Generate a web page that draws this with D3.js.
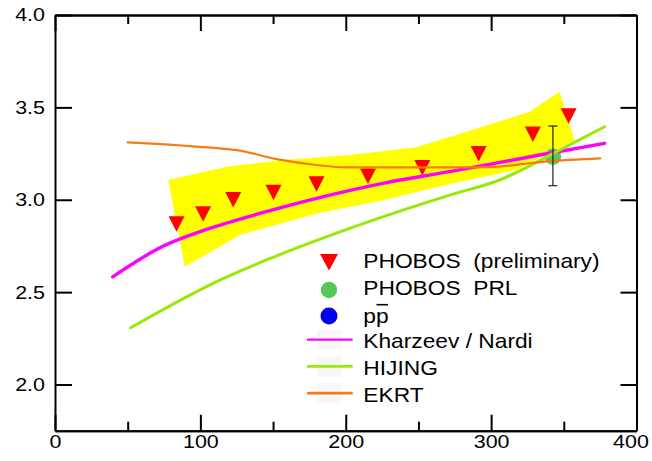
<!DOCTYPE html>
<html>
<head>
<meta charset="utf-8">
<script src="https://cdn.jsdelivr.net/npm/d3@7"></script>
<style>
  body { margin: 0; background: #fff; }
  svg { display: block; font-family: "Liberation Sans", Arial, Helvetica, sans-serif; }
</style>
</head>
<body>
<div id="chart"></div>
<script>
// values
const phobosX = [83.6, 101.9, 122.6, 150.3, 179.9, 215.3, 252.7, 291.4, 328.7, 353.3];
const phobosY = [2.870, 2.924, 3.002, 3.040, 3.087, 3.128, 3.175, 3.251, 3.356, 3.455];

const prlX = [342.5];
const prlY = [3.233];
const prlLo = [3.076];
const prlHi = [3.399];

// systematic band (upper edge left->right, lower edge right->left)
const bandUpX = [77.9, 118.0, 156.9, 202.7, 248.6, 283.0, 326.5, 347.1];
const bandUpY = [3.107, 3.179, 3.215, 3.242, 3.284, 3.368, 3.476, 3.585];
const bandLoX = [357.4, 317.3, 271.5, 225.6, 179.9, 127.1, 89.3];
const bandLoY = [3.323, 3.161, 3.085, 2.998, 2.926, 2.809, 2.637];

const kharzeevX = [39.7, 72.2, 106.5, 140.9, 179.9, 225.6, 271.5, 333.3, 378.0];
const kharzeevY = [2.583, 2.740, 2.845, 2.926, 3.008, 3.089, 3.152, 3.242, 3.305];

const hijingX = [52.0, 113.4, 145.5, 202.7, 271.5, 305.8, 347.1, 378.0];
const hijingY = [2.307, 2.565, 2.674, 2.845, 3.025, 3.107, 3.269, 3.395];

const ekrtX = [50.0, 113.4, 124.9, 152.4, 179.9, 200.5, 237.1, 271.5, 300.0, 338.0, 375.0];
const ekrtY = [3.311, 3.278, 3.269, 3.220, 3.188, 3.175, 3.175, 3.175, 3.177, 3.208, 3.224];

const xTicks = [0, 100, 200, 300, 400];
const xMinor = [50, 150, 250, 350];
const yTicks = [2.0, 2.5, 3.0, 3.5, 4.0];

const legendLabels = ['PHOBOS  (preliminary)', 'PHOBOS  PRL', 'pp', 'Kharzeev / Nardi', 'HIJING', 'EKRT'];

const colors = {
  band: '#ffff00',
  phobos: '#ff0000',
  prl: '#55c85a',
  ppbar: '#0000ee',
  kharzeev: '#ff00ff',
  hijing: '#99e80a',
  ekrt: '#f97a10'
};

const s = {
  width: 652,
  height: 461,
  margin: {top: 15, right: 15.5, bottom: 30.3, left: 55},
  fontSize: 18.5,
  legendSize: 20.5
};

const zip = (xs, ys) => xs.map((v, i) => [v, ys[i]]);

const svg = d3.select('#chart').append('svg')
  .attr('width', s.width)
  .attr('height', s.height);

const x = d3.scaleLinear().domain([0, 400])
  .range([s.margin.left, s.width - s.margin.right]);
const y = d3.scaleLinear().domain([1.75, 4.0])
  .range([s.height - s.margin.bottom, s.margin.top]);

const line = d3.line().x(d => x(d[0])).y(d => y(d[1]));
const smooth = d3.line().x(d => x(d[0])).y(d => y(d[1])).curve(d3.curveMonotoneX);

// band
const bandPts = zip(bandUpX, bandUpY).concat(zip(bandLoX, bandLoY));
svg.append('path')
  .attr('d', line(bandPts) + 'Z')
  .style('fill', colors.band);

// phobos preliminary triangles
const tri = 'M-8,-7.5L8,-7.5L0,8Z';
svg.append('g').selectAll('path')
  .data(zip(phobosX, phobosY))
  .join('path')
  .attr('d', tri)
  .attr('transform', d => `translate(${x(d[0])},${y(d[1])})`)
  .style('fill', colors.phobos);

// phobos PRL point
svg.append('g').selectAll('circle')
  .data(zip(prlX, prlY))
  .join('circle')
  .attr('cx', d => x(d[0]))
  .attr('cy', d => y(d[1]))
  .attr('r', 8.2)
  .style('fill', colors.prl);

// model curves
const curves = [
  {pts: zip(kharzeevX, kharzeevY), color: colors.kharzeev, w: 3.4},
  {pts: zip(hijingX, hijingY), color: colors.hijing, w: 3},
  {pts: zip(ekrtX, ekrtY), color: colors.ekrt, w: 2.2}
];
svg.append('g').selectAll('path')
  .data(curves)
  .join('path')
  .attr('d', d => smooth(d.pts))
  .style('fill', 'none')
  .style('stroke', d => d.color)
  .style('stroke-width', d => d.w)
  .style('stroke-linecap', 'round')
  .style('stroke-linejoin', 'round');

// error bar of PRL point
const err = svg.append('g').selectAll('g')
  .data(prlX.map((v, i) => ({x: v, lo: prlLo[i], hi: prlHi[i]})))
  .join('g')
  .style('stroke', '#222')
  .style('stroke-width', 1.2);
err.append('line')
  .attr('x1', d => x(d.x)).attr('x2', d => x(d.x))
  .attr('y1', d => y(d.lo)).attr('y2', d => y(d.hi));
err.selectAll('.cap')
  .data(d => [[d.x, d.lo], [d.x, d.hi]])
  .join('line')
  .attr('class', 'cap')
  .attr('x1', d => x(d[0]) - 4.5).attr('x2', d => x(d[0]) + 4.5)
  .attr('y1', d => y(d[1])).attr('y2', d => y(d[1]));

// axes (ticks inside the frame)
const sx = 1.16;
const styleAxis = g => {
  g.select('.domain').style('stroke', '#000').style('stroke-width', 2);
  g.selectAll('.tick line').style('stroke', '#000').style('stroke-width', 2);
  g.selectAll('text').style('font-size', `${s.fontSize}px`).style('fill', '#000');
};
const bottom = s.height - s.margin.bottom;
const right = s.width - s.margin.right;

svg.append('g')
  .attr('transform', `translate(0,${bottom})`)
  .call(d3.axisBottom(x).tickValues(xMinor).tickSizeInner(-9).tickSizeOuter(0).tickFormat(''))
  .call(styleAxis);
const xAxis = svg.append('g')
  .attr('transform', `translate(0,${bottom})`)
  .call(d3.axisBottom(x).tickValues(xTicks).tickSizeInner(-16).tickSizeOuter(0)
    .tickPadding(4.5).tickFormat(d3.format('d')))
  .call(styleAxis);
xAxis.selectAll('text')
  .attr('transform', `scale(${sx},1)`)
  .attr('x', d => d === 400 ? -6 / sx : 0);

svg.append('g')
  .attr('transform', `translate(0,${s.margin.top})`)
  .call(d3.axisTop(x).tickValues(xMinor).tickSizeInner(-9).tickSizeOuter(0).tickFormat(''))
  .call(styleAxis);
svg.append('g')
  .attr('transform', `translate(0,${s.margin.top})`)
  .call(d3.axisTop(x).tickValues(xTicks).tickSizeInner(-16).tickSizeOuter(0).tickFormat(''))
  .call(styleAxis);

const yAxis = svg.append('g')
  .attr('transform', `translate(${s.margin.left},0)`)
  .call(d3.axisLeft(y).tickValues(yTicks).tickSizeInner(-17).tickSizeOuter(0)
    .tickPadding(10).tickFormat(d3.format('.1f')))
  .call(styleAxis);
yAxis.selectAll('text')
  .attr('transform', `scale(${sx},1)`)
  .attr('x', -10 / sx);

svg.append('g')
  .attr('transform', `translate(${right},0)`)
  .call(d3.axisRight(y).tickValues(yTicks).tickSizeInner(-16).tickSizeOuter(0).tickFormat(''))
  .call(styleAxis);

// legend
const leg = svg.append('g').attr('class', 'legend');
const lx = 329;
const base0 = 268.3;
const step = 26.7;
const rowBase = i => base0 + i * step;

leg.append('path')
  .attr('d', 'M-9,-8L9,-8L0,8.5Z')
  .attr('transform', `translate(${lx},${rowBase(0) - 6.3})`)
  .style('fill', colors.phobos);
leg.append('circle')
  .attr('cx', lx).attr('cy', rowBase(1) - 5)
  .attr('r', 8.2).style('fill', colors.prl);
leg.append('circle')
  .attr('cx', lx).attr('cy', rowBase(2) - 5.7)
  .attr('r', 8.5).style('fill', colors.ppbar);

curves.forEach((c, j) => {
  const ly = rowBase(3 + j) - 8.7;
  leg.append('rect')
    .attr('x', 316.7).attr('y', ly - 10)
    .attr('width', 25).attr('height', 20)
    .style('fill', '#f7f7f7');
  leg.append('line')
    .attr('x1', 307).attr('x2', 352.7)
    .attr('y1', ly).attr('y2', ly)
    .style('stroke', c.color)
    .style('stroke-width', j === 0 ? 2.2 : 2.6);
});

legendLabels.forEach((label, i) => {
  const g = leg.append('g')
    .attr('transform', `translate(363.3,${rowBase(i) + (label === 'pp' ? 1.5 : 0)}) scale(1.11,1)`);
  const t = g.append('text')
    .style('font-size', `${s.legendSize}px`)
    .style('fill', '#000')
    .attr('xml:space', 'preserve')
    .text(label);
  if (label === 'pp') {
    // bar over the second p (antiproton)
    const w = t.node().getComputedTextLength();
    g.append('line')
      .attr('x1', w / 2 + 0.5).attr('x2', w - 0.5)
      .attr('y1', -18.5).attr('y2', -18.5)
      .style('stroke', '#000')
      .style('stroke-width', 1.6);
  }
});
</script>
</body>
</html>
